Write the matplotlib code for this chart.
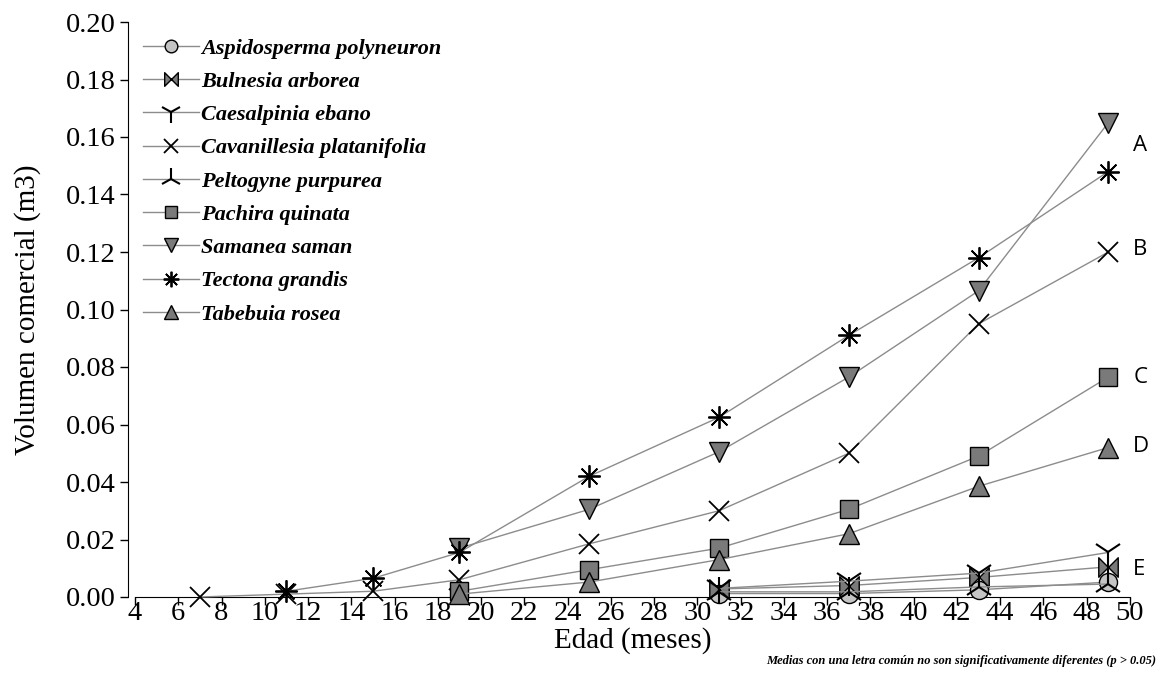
import matplotlib
matplotlib.use("Agg")
import matplotlib.pyplot as plt
from matplotlib.path import Path

plt.rcParams["font.family"] = ["Liberation Serif", "DejaVu Serif"]

# Ages (months) and commercial volume (m3) per species
ages_full = [7, 11, 15, 19, 25, 31, 37, 43, 49]
ages_tectona = [11, 15, 19, 25, 31, 37, 43, 49]
ages_mid = [19, 25, 31, 37, 43, 49]
ages_late = [31, 37, 43, 49]

aspidosperma = [0.0012, 0.0012, 0.0025, 0.0052]
bulnesia = [0.0028, 0.0040, 0.0068, 0.0105]
caesalpinia = [0.0030, 0.0055, 0.0083, 0.0155]
cavanillesia = [0.0000, 0.0010, 0.0020, 0.0060, 0.0185, 0.0300, 0.0500, 0.0950, 0.1200]
peltogyne = [0.0018, 0.0018, 0.0035, 0.0045]
pachira = [0.0020, 0.0095, 0.0170, 0.0305, 0.0490, 0.0765]
samanea = [0.0170, 0.0305, 0.0505, 0.0765, 0.1065, 0.1650]
tectona = [0.0020, 0.0065, 0.0155, 0.0420, 0.0625, 0.0910, 0.1180, 0.1480]
tabebuia = [0.0010, 0.0052, 0.0130, 0.0220, 0.0385, 0.0520]

group_letters = ["A", "B", "C", "D", "E"]
group_y = [0.157, 0.121, 0.0765, 0.0525, 0.0097]

x_ticks = list(range(4, 51, 2))
y_ticks = [0.00, 0.02, 0.04, 0.06, 0.08, 0.10, 0.12, 0.14, 0.16, 0.18, 0.20]

# Horizontal bow-tie marker
bowtie = Path([(-1, -1), (1, 1), (1, -1), (-1, 1), (-1, -1)],
              [Path.MOVETO, Path.LINETO, Path.LINETO, Path.LINETO, Path.CLOSEPOLY])

line_c = "#8c8c8c"
dark = "#7a7a7a"
light = "#c4c4c4"

fig = plt.figure(figsize=(11.62, 6.73), dpi=100)
ax = fig.add_axes([135 / 1162, 1 - 597 / 673, 995 / 1162, 575 / 673])

series = [
    ("Aspidosperma polyneuron", ages_late, aspidosperma, dict(marker="o", ms=13, mfc=light, mec="black", mew=1.0)),
    ("Bulnesia arborea", ages_late, bulnesia, dict(marker=bowtie, ms=14, mfc=dark, mec="black", mew=1.0)),
    ("Caesalpinia ebano", ages_late, caesalpinia, dict(marker="1", ms=22, mfc="black", mec="black", mew=1.5)),
    ("Cavanillesia platanifolia", ages_full, cavanillesia, dict(marker="x", ms=15, mfc="black", mec="black", mew=1.3)),
    ("Peltogyne purpurea", ages_late, peltogyne, dict(marker="2", ms=22, mfc="black", mec="black", mew=1.5)),
    ("Pachira quinata", ages_mid, pachira, dict(marker="s", ms=13, mfc=dark, mec="black", mew=1.0)),
    ("Samanea saman", ages_mid, samanea, dict(marker="v", ms=14, mfc=dark, mec="black", mew=1.0)),
    ("Tectona grandis", ages_tectona, tectona, dict(marker=(8, 2, 0), ms=16, mfc="black", mec="black", mew=1.3)),
    ("Tabebuia rosea", ages_mid, tabebuia, dict(marker="^", ms=14, mfc=dark, mec="black", mew=1.0)),
]

for name, xs, ys, style in series:
    ax.plot(xs, ys, color=line_c, lw=1.0, label=name, clip_on=False, zorder=3, **style)

ax.set_xlim(4, 50)
ax.set_ylim(0, 0.20)
ax.set_xticks(x_ticks)
ax.set_yticks(y_ticks)
ax.set_yticklabels([f"{v:.2f}" for v in y_ticks])
ax.tick_params(axis="both", direction="out", length=6, width=1, labelsize=20.5)
ax.tick_params(axis="x", pad=-3)
ax.tick_params(axis="y", pad=3)

for side in ["top", "right"]:
    ax.spines[side].set_visible(False)
ax.spines["left"].set_position(("outward", 5))

ax.set_xlabel("Edad (meses)", fontsize=21, labelpad=1)
ax.set_ylabel("Volumen comercial (m3)", fontsize=21, labelpad=18)

for letter, yv in zip(group_letters, group_y):
    ax.text(50.15, yv, letter, fontsize=16, fontfamily="Open Sans",
            va="center", ha="left", clip_on=False)

ax.legend(loc="upper left", bbox_to_anchor=(-0.005, 0.995), frameon=False,
          prop={"style": "italic", "weight": "bold", "size": 16},
          handlelength=2.5, handletextpad=0.1, labelspacing=0.57,
          markerscale=0.7, borderaxespad=0.2)

fig.text(766 / 1162, 1 - 661 / 673,
         "Medias con una letra común no son significativamente diferentes (p > 0.05)",
         fontsize=9, style="italic", weight="bold", ha="left", va="center")

fig.savefig("out.png", dpi=100)
